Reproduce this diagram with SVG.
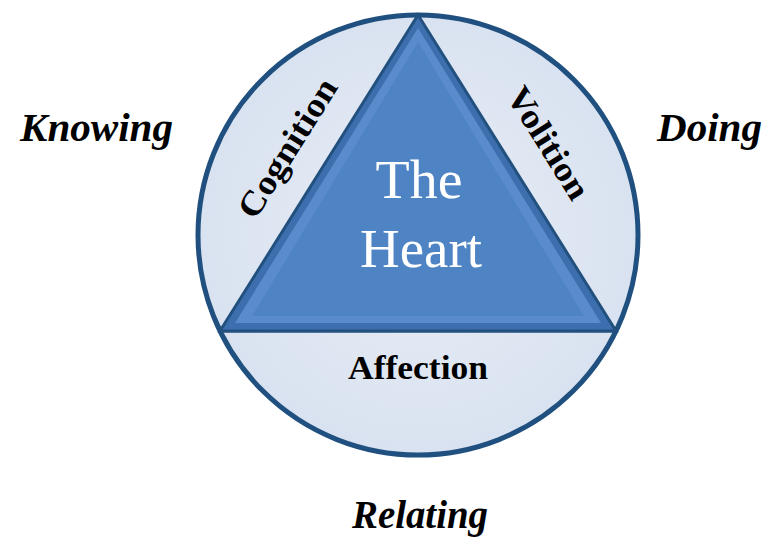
<svg xmlns="http://www.w3.org/2000/svg" width="767" height="537" viewBox="0 0 767 537">
<defs>
<style>
.lbl{font-family:"Liberation Serif","Times New Roman",serif;font-weight:bold;fill:#000;}
.out{font-family:"Liberation Serif","Times New Roman",serif;font-weight:bold;font-style:italic;font-size:40px;fill:#000;}
.heart{font-family:"Liberation Serif","Times New Roman",serif;font-size:54px;fill:#fff;}
</style>
<radialGradient id="cg" cx="50%" cy="50%" r="50%">
<stop offset="0" stop-color="#e9eef7"/>
<stop offset="1" stop-color="#d9e2f0"/>
</radialGradient>
<clipPath id="cc"><circle cx="418" cy="235" r="220"/></clipPath>
</defs>
<rect width="767" height="537" fill="#fff"/>
<g id="circle">
<circle cx="418" cy="235" r="220" fill="url(#cg)"/>
<line x1="199" y1="331" x2="637" y2="331" stroke="#20507f" stroke-width="3" clip-path="url(#cc)"/>
<circle cx="418" cy="235" r="220" fill="none" stroke="#20507f" stroke-width="5"/>
</g>
<g id="heart">
<polygon points="418,15 220,331 616,331" fill="#3d6fae" stroke="#22507f" stroke-width="3"/>
<polygon points="418,28 235,323 601,323" fill="#5a8ccb"/>
<polygon points="418,42 252,316 584,316" fill="#4f84c4"/>
<text class="heart" x="419" y="198" text-anchor="middle" textLength="87" lengthAdjust="spacingAndGlyphs">The</text>
<text class="heart" x="421" y="267" text-anchor="middle" textLength="122" lengthAdjust="spacingAndGlyphs">Heart</text>
</g>
<g id="cognition">
<text class="lbl" font-size="34" text-anchor="middle" textLength="158" lengthAdjust="spacingAndGlyphs" transform="translate(297,154) rotate(-58)">Cognition</text>
</g>
<g id="volition">
<text class="lbl" font-size="34" text-anchor="middle" textLength="126" lengthAdjust="spacingAndGlyphs" transform="translate(539,149) rotate(58)">Volition</text>
</g>
<g id="affection">
<text class="lbl" font-size="34" x="418" y="379" text-anchor="middle" textLength="140" lengthAdjust="spacingAndGlyphs">Affection</text>
</g>
<g id="knowing"><text class="out" x="20" y="141" textLength="153" lengthAdjust="spacingAndGlyphs">Knowing</text></g>
<g id="doing"><text class="out" x="657" y="141" textLength="105" lengthAdjust="spacingAndGlyphs">Doing</text></g>
<g id="relating"><text class="out" x="352" y="528" textLength="136" lengthAdjust="spacingAndGlyphs">Relating</text></g>
</svg>
